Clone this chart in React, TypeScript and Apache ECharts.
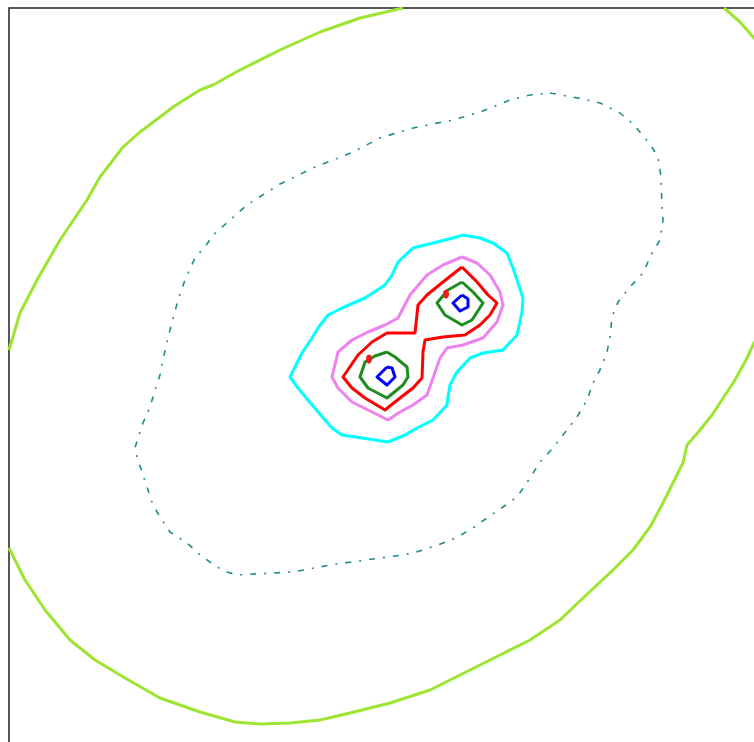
import React, { useEffect, useRef } from "react";
import * as echarts from "echarts";

// Contour levels (outer to inner), coordinates in data units (x right, y up), domain 0..780
const outerUpperLeft: number[][] = [
  [0, 438], [11, 475], [28, 508], [51, 548], [78, 588], [91, 611], [114, 641], [131, 656],
  [151, 671], [164, 681], [191, 698], [204, 703], [231, 718], [271, 738], [311, 756],
  [351, 770], [394, 780],
];
const outerTopRight: number[][] = [
  [715, 780], [731, 766], [745, 750], [751, 743], [761, 733],
];
const outerLower: number[][] = [
  [756, 463], [745, 445], [737, 428], [726, 408], [703, 373], [691, 358], [678, 343],
  [674, 325], [664, 305], [654, 285], [641, 261], [624, 238], [604, 218], [574, 190],
  [551, 168], [521, 148], [491, 133], [451, 113], [421, 98], [381, 85], [341, 75],
  [311, 68], [281, 65], [251, 64], [226, 66], [191, 76], [151, 90], [116, 110],
  [86, 128], [61, 148], [36, 178], [16, 208], [0, 240],
];
const tealLevel: number[][] = [
  [541, 695], [574, 689], [591, 685], [611, 675], [624, 664], [641, 644], [649, 631],
  [652, 611], [653, 581], [654, 568], [651, 548], [643, 535], [634, 515], [621, 501],
  [609, 486], [603, 471], [601, 451], [598, 436], [591, 418], [584, 405], [578, 388],
  [568, 371], [554, 353], [544, 340], [531, 326], [521, 310], [508, 291], [494, 281],
  [478, 270], [461, 258], [444, 249], [429, 243], [411, 237], [394, 233], [371, 230],
  [321, 223], [284, 216], [244, 214], [228, 213], [218, 216], [208, 221], [191, 233],
  [178, 245], [161, 256], [151, 271], [144, 283], [138, 301], [133, 316], [128, 331],
  [126, 340], [129, 350], [134, 365], [141, 381], [146, 398], [151, 413], [155, 433],
  [161, 458], [169, 488], [176, 508], [186, 530], [198, 544], [204, 553], [238, 583],
  [271, 604], [304, 620], [344, 636], [371, 650], [404, 660], [444, 668], [471, 676],
  [501, 688], [521, 693], [541, 695],
];
const cyanLevel: number[][] = [
  [454, 553], [471, 550], [484, 545], [498, 535], [504, 520], [509, 505], [514, 490],
  [513, 476], [508, 453], [494, 438], [474, 435], [461, 430], [448, 416], [441, 403],
  [439, 391], [438, 383], [424, 368], [408, 360], [396, 353], [379, 346], [353, 350],
  [333, 353], [323, 360], [303, 383], [289, 400], [281, 411], [293, 435], [303, 450],
  [309, 460], [319, 473], [333, 480], [356, 490], [376, 503], [383, 513], [389, 526],
  [404, 540], [424, 545], [444, 550], [454, 553],
];
const violetLevel: number[][] = [
  [453, 531], [468, 525], [481, 513], [491, 496], [494, 483], [488, 466], [474, 450],
  [454, 443], [438, 440], [431, 430], [424, 410], [418, 393], [404, 383], [391, 376],
  [379, 368], [363, 376], [343, 386], [329, 400], [323, 411], [329, 436], [343, 448],
  [359, 456], [376, 463], [389, 470], [401, 493], [418, 513], [434, 523], [453, 531],
];
const redLevel: number[][] = [
  [453, 521], [468, 506], [479, 493], [488, 485], [481, 473], [471, 463], [456, 453],
  [434, 451], [416, 448], [414, 436], [413, 410], [404, 400], [391, 390], [376, 378],
  [356, 390], [343, 400], [334, 411], [349, 433], [363, 446], [378, 455], [406, 455],
  [409, 483], [418, 493], [434, 506], [453, 521],
];
const redIslands: number[][] = [[360, 429], [437, 494]];
const greenLower: number[][] = [
  [378, 436], [386, 431], [398, 421], [399, 411], [394, 403], [378, 390], [359, 400],
  [351, 411], [356, 426], [366, 432], [378, 436],
];
const greenUpper: number[][] = [
  [453, 506], [464, 496], [474, 485], [463, 468], [453, 463], [436, 473], [428, 485],
  [439, 498], [453, 506],
];
const blueLower: number[][] = [
  [378, 421], [383, 420], [386, 411], [378, 403], [368, 411], [378, 421],
];
const blueUpper: number[][] = [
  [453, 493], [459, 489], [459, 481], [451, 477], [444, 485], [453, 493],
];

const OUTER = "#9ee531";

function lineSeries(data: number[][], color: string, width: number, type: any = "solid") {
  return {
    type: "line",
    data,
    showSymbol: false,
    symbol: "none",
    smooth: false,
    clip: true,
    silent: true,
    z: 2,
    lineStyle: { color, width, type, join: "round", cap: "butt" },
  };
}

export default function App() {
  const ref = useRef<HTMLDivElement>(null);
  useEffect(() => {
    document.body.style.margin = "0";
    document.body.style.overflow = "hidden";
    document.documentElement.style.overflow = "hidden";
    const chart = echarts.init(ref.current!, null, { renderer: "svg" });
    chart.setOption({
      animation: false,
      backgroundColor: "#ffffff",
      grid: {
        left: 9,
        top: 8,
        width: 780,
        height: 780,
        show: true,
        borderColor: "#222222",
        borderWidth: 1.5,
        backgroundColor: "#ffffff",
      },
      xAxis: { type: "value", min: 0, max: 780, show: false },
      yAxis: { type: "value", min: 0, max: 780, show: false },
      series: [
        lineSeries(outerUpperLeft, OUTER, 3),
        lineSeries(outerTopRight, OUTER, 3),
        lineSeries(outerLower, OUTER, 3),
        lineSeries(tealLevel, "#1f8a8a", 1.6, [6, 8, 2, 8]),
        lineSeries(cyanLevel, "#00ffff", 3),
        lineSeries(violetLevel, "#ee82ee", 3),
        lineSeries(redLevel, "#ff0000", 3),
        lineSeries(greenLower, "#1e8c1e", 3),
        lineSeries(greenUpper, "#1e8c1e", 3),
        lineSeries(blueLower, "#0000ff", 3),
        lineSeries(blueUpper, "#0000ff", 3),
        {
          type: "scatter",
          data: redIslands,
          symbol: "circle",
          symbolSize: [6, 9],
          silent: true,
          z: 10,
          itemStyle: { color: "#ee1c1c", opacity: 1 },
        },
      ],
    });
    return () => chart.dispose();
  }, []);
  return <div ref={ref} style={{ width: 800, height: 800 }} />;
}
